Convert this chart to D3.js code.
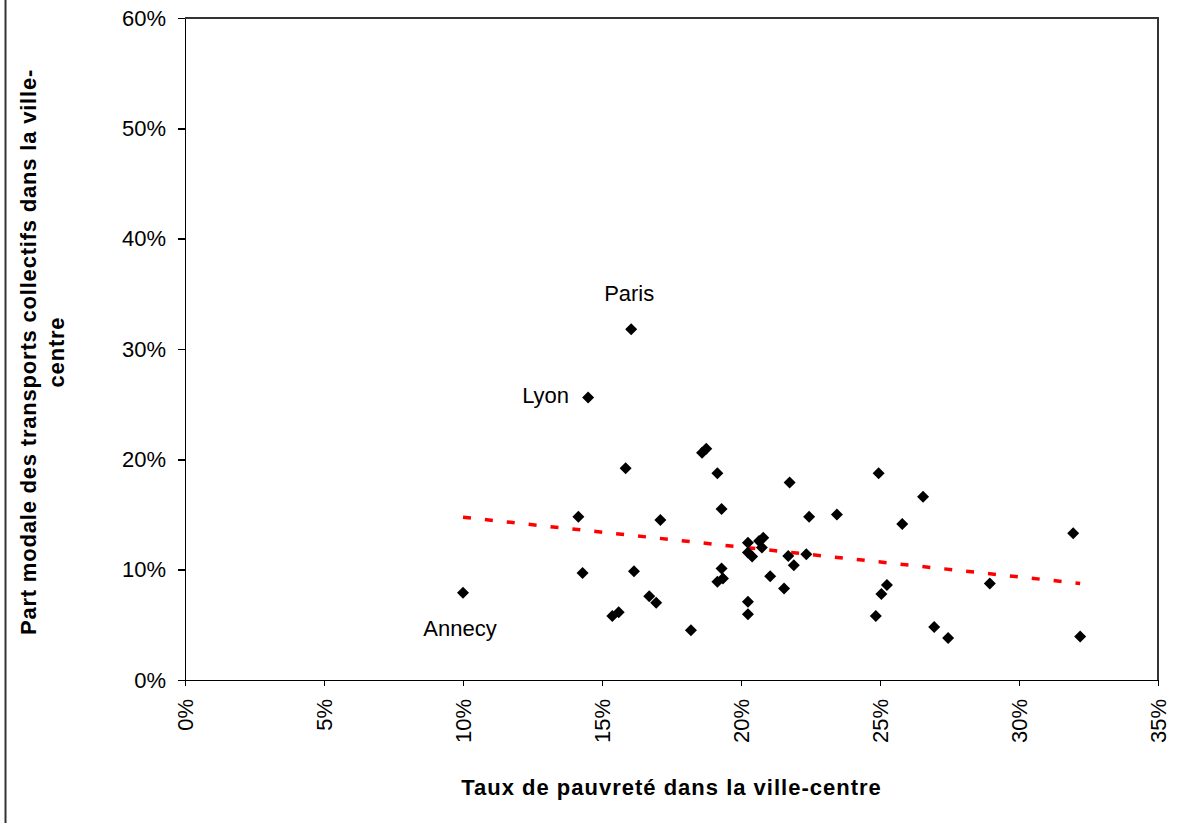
<!DOCTYPE html>
<html>
  <head>
    <title>Scatter Chart</title>
    <meta charset="utf-8">
    <style>
      body {
        margin: 0;
        background-color: white;
      }
      .chart text {
        font-family: "Liberation Sans", Arial, sans-serif;
        fill: #000;
      }
      .axis text {
        font-size: 22px;
      }
      .axis path,
      .axis line {
        fill: none;
        stroke: #000;
        stroke-width: 1.5;
        shape-rendering: crispEdges;
      }
      .title {
        font-size: 22px;
        font-weight: bold;
        letter-spacing: 1px;
      }
      .label {
        font-size: 22px;
      }
    </style>
  </head>
  <body>
  <svg class="chart"></svg>
  <script src="https://d3js.org/d3.v7.min.js"></script>
  <script>

  // poverty rate (%) and public transport share (%) for each city
  var povRate = [10.0, 14.15, 14.3, 14.5, 15.37, 15.6, 15.85, 16.05, 16.15, 16.7, 16.95, 17.1,
    18.2, 18.6, 18.75, 19.15, 19.3, 19.3, 19.15, 19.35, 20.25, 20.25, 20.4, 20.25, 20.25,
    20.65, 20.8, 20.75, 21.05, 21.55, 21.7, 21.75, 21.9, 22.35, 22.45, 23.45, 24.85, 24.95,
    25.05, 25.25, 25.8, 26.55, 26.95, 27.45, 28.95, 31.95, 32.2];
  var tcShare = [7.9, 14.8, 9.7, 25.6, 5.8, 6.15, 19.2, 31.8, 9.85, 7.6, 7.0, 14.5,
    4.5, 20.6, 20.95, 18.75, 15.5, 10.1, 8.9, 9.2, 12.45, 11.55, 11.2, 7.1, 5.95,
    12.6, 12.9, 12.0, 9.4, 8.3, 11.25, 17.9, 10.4, 11.4, 14.8, 15.0, 5.8, 18.75,
    7.8, 8.6, 14.15, 16.6, 4.8, 3.8, 8.75, 13.3, 3.95];

  // named cities
  var cityNames = ["Annecy", "Lyon", "Paris"];
  var cityIdx = [0, 3, 7];

  // trend line end points
  var trendX = [10.0, 32.2];
  var trendY = [14.75, 8.75];

  var xTicks = [0, 5, 10, 15, 20, 25, 30, 35];
  var yTicks = [0, 10, 20, 30, 40, 50, 60];

  var width = 1189, height = 823;
  var margin = {top: 18, right: 31, bottom: 143, left: 185};
  var plotW = width - margin.left - margin.right;
  var plotH = height - margin.top - margin.bottom;

  var svg = d3.select("svg")
    .attr("width", width)
    .attr("height", height);

  // outer frame (only left edge is visible)
  svg.append("line")
    .attr("x1", 5.5).attr("x2", 5.5)
    .attr("y1", 0).attr("y2", height)
    .attr("stroke", "#333")
    .attr("stroke-width", 2);

  var x = d3.scaleLinear().domain([0, 35]).range([0, plotW]);
  var y = d3.scaleLinear().domain([0, 60]).range([plotH, 0]);

  var g = svg.append("g")
    .attr("transform", "translate(" + margin.left + "," + margin.top + ")");

  // plot area border top and right
  g.append("path")
    .attr("d", "M0,0H" + plotW + "V" + plotH)
    .attr("fill", "none")
    .attr("stroke", "#333")
    .attr("stroke-width", 2);

  var fmt = function(d) { return d + "%"; };

  // x axis
  var xAxis = g.append("g")
    .attr("class", "x axis")
    .attr("transform", "translate(0," + plotH + ")")
    .call(d3.axisBottom(x).tickValues(xTicks).tickFormat(fmt).tickSize(6).tickSizeOuter(0));

  xAxis.selectAll("text")
    .attr("transform", "rotate(-90)")
    .attr("x", -19)
    .attr("y", 0)
    .attr("dy", "0.36em")
    .style("text-anchor", "end");

  // y axis
  g.append("g")
    .attr("class", "y axis")
    .call(d3.axisLeft(y).tickValues(yTicks).tickFormat(fmt).tickSize(7).tickSizeOuter(0))
    .selectAll("text")
    .attr("x", -19);

  // trend line
  var line = d3.line()
    .x(function(d) { return x(d[0]); })
    .y(function(d) { return y(d[1]); });

  g.append("path")
    .datum(d3.zip(trendX, trendY))
    .attr("d", line)
    .attr("fill", "none")
    .attr("stroke", "#ff0000")
    .attr("stroke-width", 3.5)
    .attr("stroke-dasharray", "8,14");

  // points
  g.selectAll(".pt")
    .data(d3.zip(povRate, tcShare))
    .enter().append("path")
    .attr("class", "pt")
    .attr("d", "M0,-6L6,0L0,6L-6,0Z")
    .attr("fill", "#000")
    .attr("transform", function(d) { return "translate(" + x(d[0]) + "," + y(d[1]) + ")"; });

  // city labels
  var labelPos = [
    {dx: -3, dy: 35, anchor: "middle"},
    {dx: -19, dy: -2, anchor: "end"},
    {dx: -2, dy: -36, anchor: "middle"}
  ];

  g.selectAll(".label")
    .data(cityNames)
    .enter().append("text")
    .attr("class", "label")
    .attr("x", function(d, i) { return x(povRate[cityIdx[i]]) + labelPos[i].dx; })
    .attr("y", function(d, i) { return y(tcShare[cityIdx[i]]) + labelPos[i].dy; })
    .attr("dy", "0.35em")
    .attr("text-anchor", function(d, i) { return labelPos[i].anchor; })
    .text(function(d) { return d; });

  // axis titles
  svg.append("text")
    .attr("class", "title")
    .attr("x", margin.left + plotW / 2)
    .attr("y", 795)
    .attr("text-anchor", "middle")
    .text("Taux de pauvreté dans la ville-centre");

  var yTitle = svg.append("text")
    .attr("class", "title")
    .attr("transform", "translate(36,352) rotate(-90)")
    .attr("text-anchor", "middle")
    .style("letter-spacing", "0.8px");

  yTitle.append("tspan")
    .attr("x", 0).attr("y", 0)
    .text("Part modale des transports collectifs dans la ville-");
  yTitle.append("tspan")
    .attr("x", 0).attr("y", 28)
    .text("centre");

  </script>
  </body>
</html>
